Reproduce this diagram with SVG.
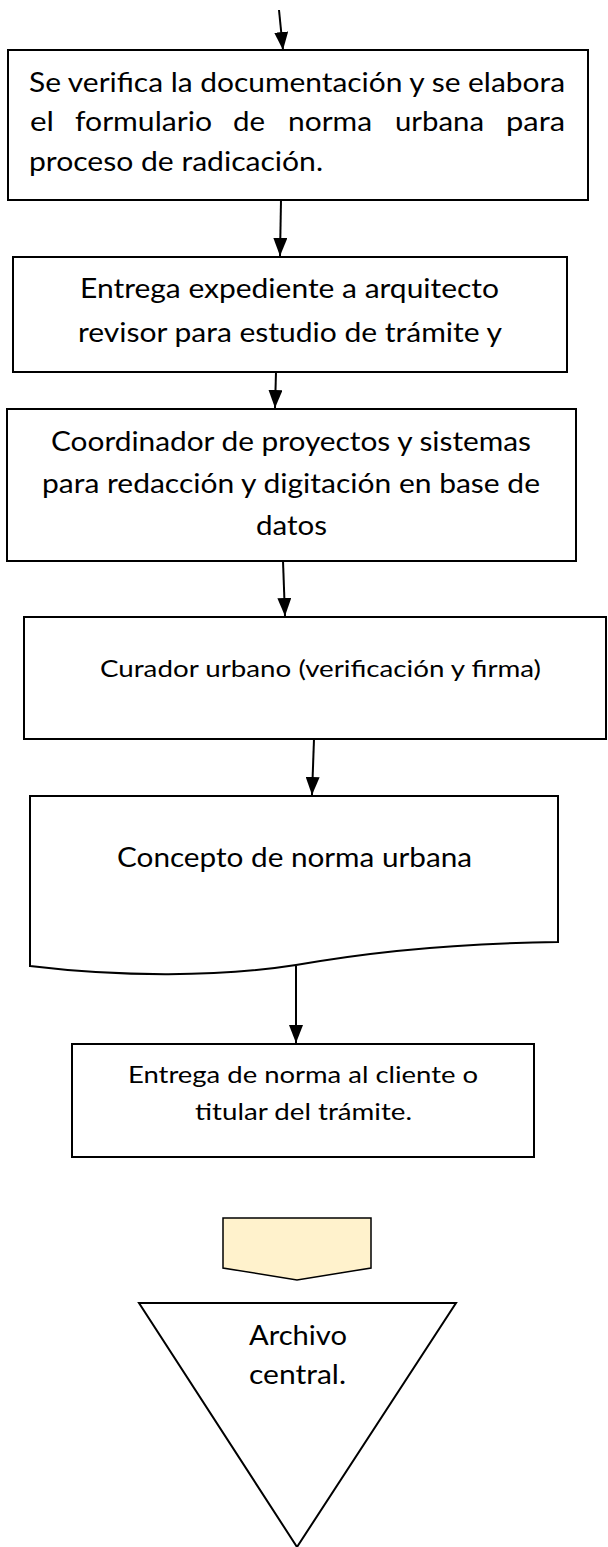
<svg xmlns="http://www.w3.org/2000/svg" width="608" height="1547" viewBox="0 0 608 1547">
<style>
.box{fill:#fff;stroke:#000;stroke-width:2}
.conn{fill:none;stroke:#000;stroke-width:2}
.t{font-family:Lato,"Open Sans","Liberation Sans",sans-serif;font-size:26px;fill:#000}
.s{font-size:23px}
</style>
<defs>
<marker id="ah" viewBox="0 0 18 14" refX="18" refY="7" markerWidth="18" markerHeight="14" markerUnits="userSpaceOnUse" orient="auto">
<path d="M0,0 L18,7 L0,14 Z" fill="#000"/>
</marker>
</defs>
<rect width="608" height="1547" fill="#fff"/>
<g id="connectors">
<line class="conn" x1="279" y1="10" x2="283" y2="50" marker-end="url(#ah)"/>
<line class="conn" x1="281" y1="200" x2="280" y2="256" marker-end="url(#ah)"/>
<line class="conn" x1="276" y1="372" x2="275" y2="408" marker-end="url(#ah)"/>
<line class="conn" x1="283" y1="561" x2="285" y2="616" marker-end="url(#ah)"/>
<line class="conn" x1="314" y1="739" x2="312" y2="795" marker-end="url(#ah)"/>
<line class="conn" x1="296" y1="966" x2="296" y2="1043" marker-end="url(#ah)"/>
</g>
<g id="n1">
<rect class="box" x="8" y="50" width="580" height="150"/>
<text class="t" x="29" y="92" textLength="536" lengthAdjust="spacingAndGlyphs">Se verifica la documentación y se elabora</text>
<text class="t" x="30" y="131" textLength="24" lengthAdjust="spacingAndGlyphs">el</text>
<text class="t" x="75" y="131" textLength="137" lengthAdjust="spacingAndGlyphs">formulario</text>
<text class="t" x="233" y="131" textLength="32" lengthAdjust="spacingAndGlyphs">de</text>
<text class="t" x="288" y="131" textLength="84" lengthAdjust="spacingAndGlyphs">norma</text>
<text class="t" x="395" y="131" textLength="89" lengthAdjust="spacingAndGlyphs">urbana</text>
<text class="t" x="506" y="131" textLength="59" lengthAdjust="spacingAndGlyphs">para</text>
<text class="t" x="29" y="171" textLength="294" lengthAdjust="spacingAndGlyphs">proceso de radicación.</text>
</g>
<g id="n2">
<rect class="box" x="13" y="257" width="554" height="115"/>
<text class="t" x="80" y="298" textLength="419" lengthAdjust="spacingAndGlyphs">Entrega expediente a arquitecto</text>
<text class="t" x="78" y="342" textLength="424" lengthAdjust="spacingAndGlyphs">revisor para estudio de trámite y</text>
</g>
<g id="n3">
<rect class="box" x="7" y="409" width="569" height="152"/>
<text class="t" x="51" y="451" textLength="480" lengthAdjust="spacingAndGlyphs">Coordinador de proyectos y sistemas</text>
<text class="t" x="42" y="493" textLength="498" lengthAdjust="spacingAndGlyphs">para redacción y digitación en base de</text>
<text class="t" x="256" y="535" textLength="71" lengthAdjust="spacingAndGlyphs">datos</text>
</g>
<g id="n4">
<rect class="box" x="24" y="617" width="582" height="122"/>
<text class="t s" x="100" y="677" textLength="441" lengthAdjust="spacingAndGlyphs">Curador urbano (verificación y firma)</text>
</g>
<g id="n5">
<path class="box" d="M30,796 H558 V942 C470,943 380,950 296,965 C220,977 120,977 30,966 Z"/>
<text class="t" x="117" y="867" textLength="355" lengthAdjust="spacingAndGlyphs">Concepto de norma urbana</text>
</g>
<g id="n6">
<rect class="box" x="72" y="1044" width="462" height="113"/>
<text class="t s" x="128" y="1083" textLength="350" lengthAdjust="spacingAndGlyphs">Entrega de norma al cliente o</text>
<text class="t s" x="195" y="1120" textLength="217" lengthAdjust="spacingAndGlyphs">titular del trámite.</text>
</g>
<g id="n7">
<polygon points="223,1218 371,1218 371,1268 297,1280 223,1268" fill="#FFF2CC" stroke="#000" stroke-width="1.5"/>
</g>
<g id="n8">
<polygon class="box" points="139,1303 456,1303 297,1547"/>
<text class="t" x="249" y="1345" textLength="98" lengthAdjust="spacingAndGlyphs">Archivo</text>
<text class="t" x="249" y="1384" textLength="97" lengthAdjust="spacingAndGlyphs">central.</text>
</g>
</svg>
